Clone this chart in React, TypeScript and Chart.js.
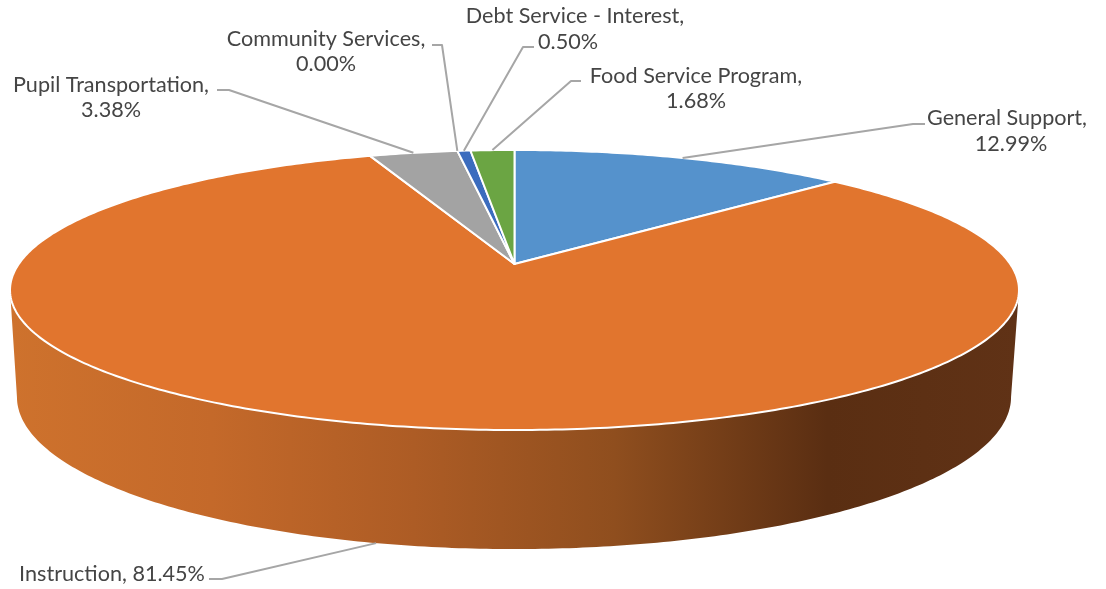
import React, { useEffect, useRef } from "react";
import { Chart, registerables } from "chart.js";

Chart.register(...registerables);

const categories = ["General Support", "Instruction", "Pupil Transportation", "Community Services", "Debt Service - Interest", "Food Service Program"];
const shares = [12.99, 81.45, 3.38, 0.0, 0.5, 1.68];
const sliceColors = ["#5592CC", "#E1752E", "#A3A3A3", "#FFC000", "#3B6CBE", "#6BA543"];

// label layout, one entry per slice: text line centres, elbow and end of the leader
const labelLayout = [
  { lines: [[1007, 118], [1011, 144]], elbow: [913, 124], end: [925, 124], plane: "top" },
  { lines: [[112, 574]], elbow: [222, 579], end: [209, 579], plane: "bottom", single: true },
  { lines: [[111, 85], [111, 110]], elbow: [229, 90], end: [217, 90], plane: "top" },
  { lines: [[326, 39], [326, 64]], elbow: [442, 45], end: [432, 45], plane: "top" },
  { lines: [[575, 16], [568, 42]], elbow: [523, 47], end: [534, 47], plane: "top" },
  { lines: [[696, 76], [696, 101]], elbow: [571, 81], end: [581, 81], plane: "top" },
];

const K = 0.1857;
const TOP = { cx: 514.5, cy: 264, a: 495.7, b: 135.2 };
const BOTTOM = { cx: 514, cy: 368.8, a: 488.4, b: 146.8 };

function project(plane: typeof TOP, angle: number) {
  const u = Math.cos(angle);
  const v = -Math.sin(angle);
  const w = 1 + K * v;
  return [plane.cx + (plane.a * u) / w, plane.cy - (plane.b * v) / w];
}

// angle where the projected rim reaches its widest point (v = -k)
const tipAngle = Math.asin(K);

const pie3d = {
  id: "pie3d",
  beforeDatasetDraw(chart: any) {
    const ctx: CanvasRenderingContext2D = chart.ctx;
    const arcs = chart.getDatasetMeta(0).data;
    ctx.save();

    // side wall
    const grad = ctx.createLinearGradient(10, 0, 1019, 0);
    grad.addColorStop(0, "#CE722D");
    grad.addColorStop(0.2, "#C4692A");
    grad.addColorStop(0.4, "#AD5C25");
    grad.addColorStop(0.6, "#8F4E1E");
    grad.addColorStop(0.81, "#5A2E12");
    grad.addColorStop(1, "#603216");
    ctx.beginPath();
    const tl = project(TOP, Math.PI - tipAngle);
    ctx.moveTo(tl[0], tl[1]);
    for (let i = 0; i <= 240; i++) {
      const t = Math.PI - tipAngle - (i / 240) * (Math.PI - 2 * tipAngle);
      const p = project(BOTTOM, t);
      ctx.lineTo(p[0], p[1]);
    }
    const tr = project(TOP, tipAngle);
    ctx.lineTo(tr[0], tr[1]);
    ctx.closePath();
    ctx.fillStyle = grad;
    ctx.fill();

    // top face: wedges from the library's own arc angles
    arcs.forEach((arc: any, i: number) => {
      const { startAngle, endAngle } = arc.getProps(["startAngle", "endAngle"], true);
      if (endAngle - startAngle < 1e-6) return;
      ctx.beginPath();
      ctx.moveTo(TOP.cx, TOP.cy);
      const n = Math.max(2, Math.ceil((endAngle - startAngle) * 80));
      for (let j = 0; j <= n; j++) {
        const p = project(TOP, startAngle + ((endAngle - startAngle) * j) / n);
        ctx.lineTo(p[0], p[1]);
      }
      ctx.closePath();
      ctx.fillStyle = sliceColors[i];
      ctx.fill();
      ctx.strokeStyle = "#FFFFFF";
      ctx.lineWidth = 2;
      ctx.lineJoin = "round";
      ctx.stroke();
    });

    // leaders and labels
    ctx.font = "21.6px Lato";
    ctx.textAlign = "center";
    ctx.textBaseline = "middle";
    arcs.forEach((arc: any, i: number) => {
      const { startAngle, endAngle } = arc.getProps(["startAngle", "endAngle"], true);
      const layout = labelLayout[i];
      const s = project(layout.plane === "top" ? TOP : BOTTOM, (startAngle + endAngle) / 2);
      ctx.beginPath();
      ctx.moveTo(s[0], s[1]);
      ctx.lineTo(layout.elbow[0], layout.elbow[1]);
      ctx.lineTo(layout.end[0], layout.end[1]);
      ctx.strokeStyle = "#A6A6A6";
      ctx.lineWidth = 2;
      ctx.stroke();
      const pct = shares[i].toFixed(2) + "%";
      ctx.fillStyle = "#454545";
      if (layout.single) {
        ctx.fillText(categories[i] + ", " + pct, layout.lines[0][0], layout.lines[0][1]);
      } else {
        ctx.fillText(categories[i] + ",", layout.lines[0][0], layout.lines[0][1]);
        ctx.fillText(pct, layout.lines[1][0], layout.lines[1][1]);
      }
    });
    ctx.restore();
    return false;
  },
};

export default function App() {
  const ref = useRef<HTMLCanvasElement>(null);
  useEffect(() => {
    const chart = new Chart(ref.current as HTMLCanvasElement, {
      type: "pie",
      data: {
        labels: categories,
        datasets: [{ data: shares, backgroundColor: sliceColors }],
      },
      options: {
        animation: false,
        responsive: false,
        plugins: { legend: { display: false }, tooltip: { enabled: false } },
      },
      plugins: [pie3d],
    } as any);
    return () => chart.destroy();
  }, []);
  return (
    <div style={{ position: "fixed", left: 0, top: 0, width: 1106, height: 589, background: "#fff" }}>
      <canvas ref={ref} width={1106} height={589} style={{ display: "block" }} />
    </div>
  );
}
